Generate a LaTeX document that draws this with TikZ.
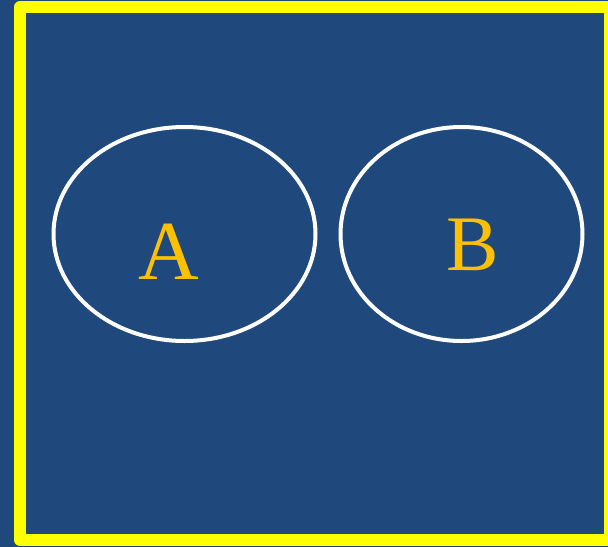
\documentclass[tikz,border=0pt]{standalone}
\usepackage{fontspec}
\setmainfont{Liberation Serif}
\definecolor{slideblue}{RGB}{31,73,125}
\definecolor{frameyellow}{RGB}{255,255,0}
\definecolor{lettergold}{RGB}{255,192,0}
\tikzset{
  setring/.style={draw=white, line width=3pt},
  setlabel/.style={text=lettergold, inner sep=0pt, anchor=base},
}
\begin{document}
\begin{tikzpicture}[x=0.75pt,y=0.75pt,yscale=-1,xscale=1]
\useasboundingbox (0,0) rectangle (608,547);

%Background
\fill [slideblue] (0,0) rectangle (608,547);
%Shape: Frame
\draw [frameyellow, line width=9pt, line join=round] (20,7) -- (610,7) -- (610,540) -- (20,540) -- cycle;
%Shape: Ellipse A
\draw [setring] (184.5,234) ellipse [x radius=131, y radius=107];
%Shape: Ellipse B
\draw [setring] (461.5,234) ellipse [x radius=121, y radius=107];

% Text Node
\node (labelA) [setlabel, font=\fontsize{63}{63}\selectfont] at (169,279) {A};
% Text Node
\node (labelB) [setlabel, font=\fontsize{59}{59}\selectfont] at (473,270) {B};
\end{tikzpicture}
\end{document}
